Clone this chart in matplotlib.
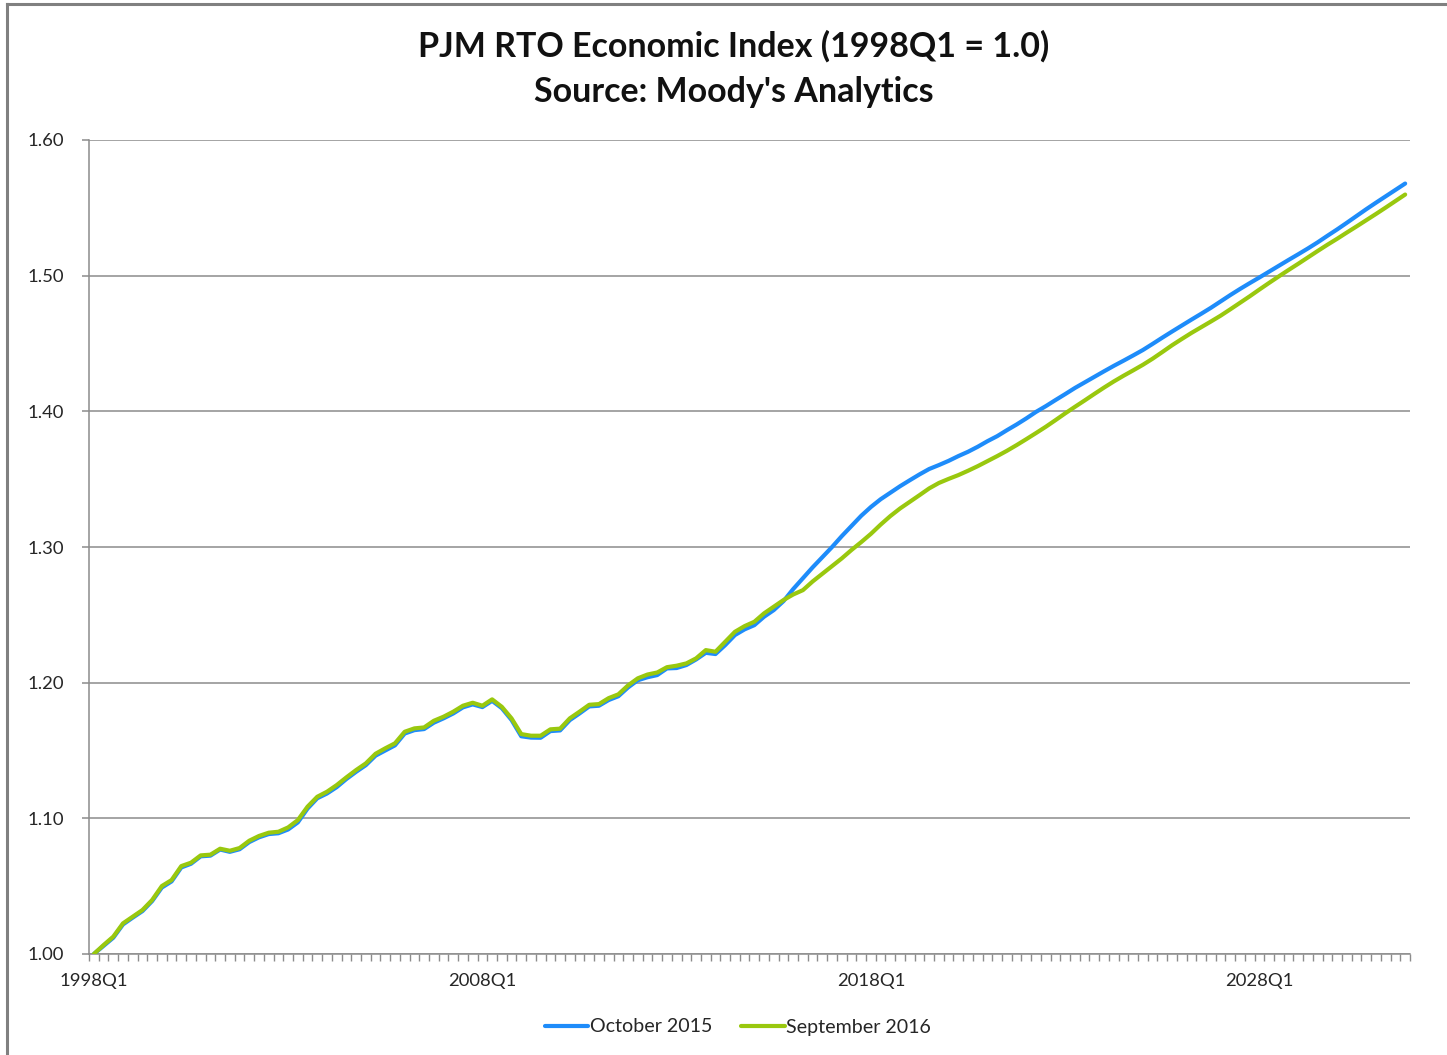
import matplotlib
matplotlib.use("Agg")
import matplotlib.pyplot as plt
from matplotlib.lines import Line2D

# ---------------- data ----------------
start_year = 1998
n_quarters = 136  # 1998Q1 .. 2031Q4
tick_labels = ["1998Q1", "2008Q1", "2018Q1", "2028Q1"]
tick_index = [0, 40, 80, 120]
y_ticks = [1.00, 1.10, 1.20, 1.30, 1.40, 1.50, 1.60]

october_2015 = [
    1.0000, 1.0060, 1.0120, 1.0218, 1.0268, 1.0316, 1.0390, 1.0490, 1.0535, 1.0638,
    1.0665, 1.0720, 1.0725, 1.0770, 1.0753, 1.0772, 1.0825, 1.0860, 1.0884, 1.0890,
    1.0918, 1.0970, 1.1072, 1.1148, 1.1183, 1.1230, 1.1290, 1.1343, 1.1392, 1.1462,
    1.1500, 1.1538, 1.1625, 1.1650, 1.1658, 1.1705, 1.1737, 1.1773, 1.1818, 1.1840,
    1.1820, 1.1866, 1.1812, 1.1725, 1.1605, 1.1595, 1.1594, 1.1643, 1.1648, 1.1724,
    1.1773, 1.1825, 1.1830, 1.1872, 1.1900, 1.1965, 1.2018, 1.2040, 1.2056, 1.2105,
    1.2108, 1.2130, 1.2171, 1.2220, 1.2211, 1.2277, 1.2351, 1.2393, 1.2424, 1.2486,
    1.2535, 1.2601, 1.2690, 1.2770, 1.2850, 1.2925, 1.3000, 1.3080, 1.3155, 1.3230,
    1.3295, 1.3352, 1.3400, 1.3448, 1.3492, 1.3535, 1.3575, 1.3604, 1.3635, 1.3670,
    1.3702, 1.3739, 1.3780, 1.3817, 1.3861, 1.3903, 1.3948, 1.3996, 1.4038, 1.4083,
    1.4127, 1.4172, 1.4213, 1.4254, 1.4295, 1.4335, 1.4373, 1.4412, 1.4452, 1.4497,
    1.4543, 1.4588, 1.4632, 1.4676, 1.4719, 1.4763, 1.4810, 1.4857, 1.4902, 1.4945,
    1.4987, 1.5030, 1.5073, 1.5116, 1.5158, 1.5201, 1.5246, 1.5294, 1.5341, 1.5390,
    1.5440, 1.5490, 1.5538, 1.5585, 1.5632, 1.5679,
]

september_2016 = [
    1.0000, 1.0066, 1.0128, 1.0226, 1.0275, 1.0324, 1.0398, 1.0501, 1.0545, 1.0648,
    1.0673, 1.0727, 1.0732, 1.0776, 1.0761, 1.0781, 1.0835, 1.0870, 1.0894, 1.0901,
    1.0933, 1.0987, 1.1086, 1.1159, 1.1196, 1.1245, 1.1302, 1.1356, 1.1405, 1.1476,
    1.1516, 1.1553, 1.1638, 1.1663, 1.1670, 1.1719, 1.1749, 1.1786, 1.1830, 1.1852,
    1.1830, 1.1877, 1.1822, 1.1737, 1.1621, 1.1609, 1.1609, 1.1656, 1.1661, 1.1737,
    1.1786, 1.1837, 1.1842, 1.1886, 1.1914, 1.1980, 1.2032, 1.2060, 1.2075, 1.2114,
    1.2125, 1.2142, 1.2179, 1.2240, 1.2228, 1.2302, 1.2375, 1.2417, 1.2449, 1.2511,
    1.2560, 1.2609, 1.2650, 1.2682, 1.2746, 1.2803, 1.2860, 1.2916, 1.2978, 1.3036,
    1.3097, 1.3165, 1.3228, 1.3284, 1.3333, 1.3382, 1.3432, 1.3472, 1.3502, 1.3530,
    1.3562, 1.3596, 1.3633, 1.3670, 1.3709, 1.3751, 1.3795, 1.3840, 1.3886, 1.3935,
    1.3985, 1.4033, 1.4080, 1.4128, 1.4175, 1.4220, 1.4262, 1.4302, 1.4343, 1.4388,
    1.4437, 1.4487, 1.4533, 1.4578, 1.4620, 1.4662, 1.4705, 1.4752, 1.4800, 1.4848,
    1.4898, 1.4947, 1.4995, 1.5042, 1.5088, 1.5135, 1.5182, 1.5228, 1.5272, 1.5318,
    1.5363, 1.5409, 1.5455, 1.5502, 1.5550, 1.5598,
]

# ---------------- figure ----------------
W, H = 1447, 1055
fig = plt.figure(figsize=(W / 100, H / 100), dpi=100)
FONT = ["Lato", "DejaVu Sans"]
plt.rcParams["font.family"] = FONT

ax = fig.add_axes([89 / W, (H - 954) / H, (1410 - 89) / W, (954 - 140) / H])

x = list(range(n_quarters))
blue = "#1E8CFA"
green = "#99C80E"
ax.plot(x, october_2015, color=blue, lw=3.0, solid_capstyle="round", label="October 2015", zorder=3)
ax.plot(x, september_2016, color=green, lw=3.0, solid_capstyle="round", label="September 2016", zorder=4)

ax.set_xlim(-0.5, n_quarters - 0.5)
ax.set_ylim(1.0, 1.6)
ax.set_yticks(y_ticks)
ax.set_yticklabels([f"{v:.2f}" for v in y_ticks])
ax.set_xticks(tick_index)
ax.set_xticklabels(tick_labels)
ax.set_xticks([i - 0.5 for i in range(n_quarters + 1)], minor=True)

grid_c = "#8C8C8C"
ax.yaxis.grid(True, color=grid_c, lw=1.1)
ax.set_axisbelow(True)
for s in ["top", "right"]:
    ax.spines[s].set_visible(False)
for s in ["left", "bottom"]:
    ax.spines[s].set_color(grid_c)
    ax.spines[s].set_linewidth(1.1)

ax.tick_params(axis="y", which="major", length=5, width=1.1, color=grid_c, pad=13,
               labelsize=13.3, labelcolor="#262626")
ax.tick_params(axis="x", which="major", length=0, pad=13.5, labelsize=13.3, labelcolor="#262626")
ax.tick_params(axis="x", which="minor", length=5, width=1.0, color=grid_c)

fig.text(734 / W, 1 - 46 / H, "PJM RTO Economic Index (1998Q1 = 1.0)", ha="center", va="center",
         fontsize=24.5, fontweight="bold", color="#111111")
fig.text(734 / W, 1 - 92 / H, "Source: Moody's Analytics", ha="center", va="center",
         fontsize=24.5, fontweight="bold", color="#111111")

leg = fig.legend(loc="center", bbox_to_anchor=(738 / W, 1 - 1027 / H), ncol=2, frameon=False,
                 fontsize=14.1, handlelength=2.2, handletextpad=0.1, columnspacing=1.5)
for t in leg.get_texts():
    t.set_color("#262626")

# outer chart border (top and left visible)
bx, by = 7 / W, 1 - 4 / H
fig.add_artist(Line2D([bx, bx], [0, by], transform=fig.transFigure, color="#808080", lw=2.2))
fig.add_artist(Line2D([bx, 1.0], [by, by], transform=fig.transFigure, color="#808080", lw=2.2))

fig.savefig("out.png", dpi=100, facecolor="white")
